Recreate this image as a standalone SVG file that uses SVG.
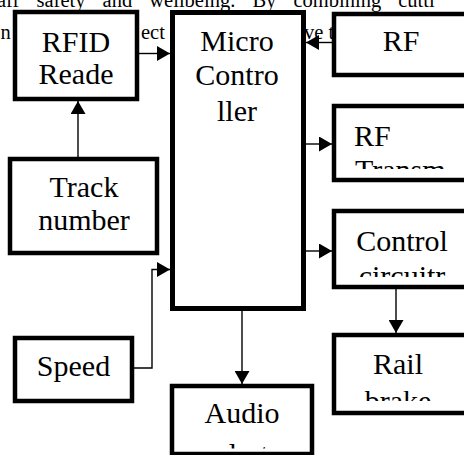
<svg xmlns="http://www.w3.org/2000/svg" width="464" height="455" viewBox="0 0 464 455">
<style>
.bg{font-family:"Liberation Serif","Times New Roman",serif;font-size:20.5px;fill:#000}
.box{fill:#fff;stroke:#000;stroke-width:4.5}
.big{stroke-width:5}
.t{font-family:"Liberation Serif","Times New Roman",serif;font-size:30px;fill:#000;text-anchor:middle}
.l{text-anchor:start}
.c{fill:none;stroke:#000;stroke-width:1.4}
</style>
<defs>
<marker id="ah" markerUnits="userSpaceOnUse" markerWidth="14" markerHeight="15" refX="13" refY="7.5" orient="auto">
<path d="M0,0 L13,7.5 L0,15 z" fill="#000"/>
</marker>
<clipPath id="cpTx"><rect x="336" y="108" width="130" height="61"/></clipPath>
<clipPath id="cpCt"><rect x="336" y="213" width="130" height="64"/></clipPath>
<clipPath id="cpRb"><rect x="336" y="337" width="130" height="64"/></clipPath>
<clipPath id="cpAu"><rect x="174" y="388" width="136" height="60.5"/></clipPath>
</defs>
<g id="background-text">
<text class="bg" x="-3" y="7" word-spacing="12">aff safety and wellbeing. By combining cutti</text>
<text class="bg" x="0.5" y="39">n</text>
<text class="bg" x="141" y="39">ect</text>
<text class="bg" x="304" y="39">ve t</text>
</g>
<g id="rfid-reader">
<rect class="box" x="15" y="12" width="122" height="87"/>
<text class="t" x="76" y="52">RFID</text>
<text class="t" x="76" y="84">Reade</text>
</g>
<g id="micro-controller">
<rect class="box big" x="172.5" y="12.5" width="131" height="296"/>
<text class="t" x="237" y="51">Micro</text>
<text class="t" x="237" y="85">Contro</text>
<text class="t" x="237" y="121">ller</text>
</g>
<g id="rf">
<rect class="box" x="334" y="14" width="140" height="61"/>
<text class="t" x="401" y="51">RF</text>
</g>
<g id="rf-transmitter">
<rect class="box" x="334" y="106" width="140" height="74"/>
<g clip-path="url(#cpTx)">
<text class="t l" x="354" y="146">RF</text>
<text class="t l" x="355" y="180">Transm</text>
</g>
</g>
<g id="control-circuitry">
<rect class="box" x="334" y="211" width="140" height="76"/>
<g clip-path="url(#cpCt)">
<text class="t" x="402" y="251">Control</text>
<text class="t" x="402" y="286">circuitr</text>
</g>
</g>
<g id="track-number">
<rect class="box" x="10" y="159" width="147" height="94"/>
<text class="t" x="84" y="197">Track</text>
<text class="t" x="84" y="230">number</text>
</g>
<g id="speed">
<rect class="box" x="15" y="338" width="117" height="63"/>
<text class="t" x="73.5" y="376">Speed</text>
</g>
<g id="rail-brake">
<rect class="box" x="334" y="335" width="140" height="78"/>
<g clip-path="url(#cpRb)">
<text class="t" x="398" y="374">Rail</text>
<text class="t" x="398" y="411">brake</text>
</g>
</g>
<g id="audio-alert">
<rect class="box" x="172" y="386" width="140" height="68"/>
<g clip-path="url(#cpAu)">
<text class="t" x="242" y="423">Audio</text>
<text class="t" x="242" y="463.5">alert</text>
</g>
</g>
<g id="connectors">
<line class="c" x1="139" y1="53.5" x2="170" y2="53.5" marker-end="url(#ah)"/>
<line class="c" x1="332" y1="42.5" x2="306" y2="42.5" marker-end="url(#ah)"/>
<line class="c" x1="78" y1="157" x2="78" y2="101" marker-end="url(#ah)"/>
<polyline class="c" points="134,368 152,368 152,269.5 170,269.5" marker-end="url(#ah)"/>
<line class="c" x1="306" y1="144" x2="332" y2="144" marker-end="url(#ah)"/>
<line class="c" x1="306" y1="251" x2="332" y2="251" marker-end="url(#ah)"/>
<line class="c" x1="396" y1="289" x2="396" y2="333" marker-end="url(#ah)"/>
<line class="c" x1="242" y1="311" x2="242" y2="384" marker-end="url(#ah)"/>
</g>
</svg>
